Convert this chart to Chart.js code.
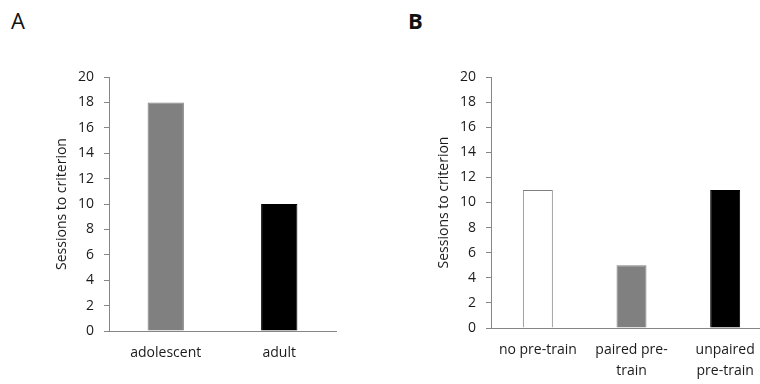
<!DOCTYPE html>
<html>
<head>
<meta charset="utf-8">
<script src="https://cdn.jsdelivr.net/npm/chart.js@4"></script>
<style>
  html, body { margin: 0; padding: 0; width: 760px; height: 384px; overflow: hidden; background: #fff; }
  .panel { position: absolute; top: 0; height: 384px; }
  .letter { position: absolute; font-family: "Open Sans", sans-serif; font-size: 22px; color: #111; }
</style>
</head>
<body>
<div class="letter" style="left:11px; top:5px;">A</div>
<div class="letter" style="left:408px; top:5px; font-weight:bold;">B</div>
<div class="panel" style="left:0; width:380px;"><canvas id="chartA" width="380" height="384"></canvas></div>
<div class="panel" style="left:380px; width:400px;"><canvas id="chartB" width="400" height="384"></canvas></div>
<script>
const ageGroups = ['adolescent', 'adult'];
const ageSessions = [18, 10];
const ageColors = ['#808080', '#000000'];

const pretrainGroups = ['no pre-train', ['paired pre-', 'train'], ['unpaired', 'pre-train']];
const pretrainSessions = [11, 5, 11];
const pretrainColors = ['#ffffff', '#808080', '#000000'];
const pretrainBorders = ['#7f7f7f', '#808080', '#000000'];

const yTicks = [0, 2, 4, 6, 8, 10, 12, 14, 16, 18, 20];

const fontFamily = '"Open Sans", sans-serif';

let makeChart = (canvas, labels, values, colors, borders, pad, xHeight) => {
  return new Chart(canvas, {
    type: 'bar',
    data: {
      labels: labels,
      datasets: [
        {
          data: values,
          backgroundColor: colors,
          borderColor: borders,
          borderWidth: 1,
          categoryPercentage: 1,
          barPercentage: 0.32,
        },
      ],
    },
    options: {
      responsive: false,
      animation: false,
      layout: { padding: pad },
      plugins: { legend: { display: false }, tooltip: { enabled: false } },
      scales: {
        x: {
          grid: { display: false, drawTicks: false },
          border: { color: '#868686', width: 1 },
          ticks: { color: '#1a1a1a', padding: 12, maxRotation: 0, font: { family: fontFamily, size: 14, lineHeight: 1.5 } },
          afterFit: (scale) => { scale.height = xHeight; },
        },
        y: {
          min: 0,
          max: 20,
          afterBuildTicks: (scale) => { scale.ticks = yTicks.map((v) => ({ value: v })); },
          grid: { drawOnChartArea: false, drawTicks: true, tickLength: 5, color: '#868686' },
          border: { color: '#868686', width: 1 },
          ticks: { color: '#1a1a1a', padding: 10, font: { family: fontFamily, size: 14 } },
          title: { display: true, text: 'Sessions to criterion', color: '#1a1a1a', padding: 0, font: { family: fontFamily, size: 14 } },
          afterFit: (scale) => { scale.width = 55; },
        },
      },
    },
  });
};

makeChart(document.getElementById('chartA'), ageGroups, ageSessions, ageColors, ageColors,
  { left: 54, right: 44, top: 77, bottom: 0 }, 53);
makeChart(document.getElementById('chartB'), pretrainGroups, pretrainSessions, pretrainColors, pretrainBorders,
  { left: 56, right: 8, top: 77, bottom: 0 }, 56);
</script>
</body>
</html>
